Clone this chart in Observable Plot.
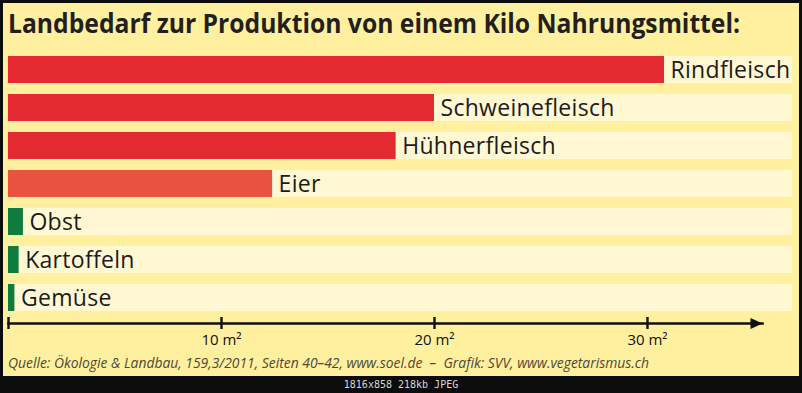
<!DOCTYPE html>
<html>
<head>
<meta charset="utf-8">
<script src="https://cdn.jsdelivr.net/npm/d3@7"></script>
<script src="https://cdn.jsdelivr.net/npm/@observablehq/plot@0.6"></script>
<style>
  html, body { margin: 0; padding: 0; }
  body { width: 802px; height: 393px; overflow: hidden; position: relative; background: #0c0c0c; font-family: "Open Sans", sans-serif; }
  #panel { position: absolute; left: 3px; top: 3px; width: 796px; height: 373px; background: #fff09f; }
  #title { position: absolute; left: 8px; top: 6px; font-weight: 700; font-size: 26px; line-height: 34px; color: #231f20; white-space: nowrap; transform-origin: 0 0; }
  #chart { position: absolute; left: 0; top: 45px; }
  #caption { position: absolute; left: 8px; top: 356px; font-style: italic; font-size: 14px; line-height: 14px; color: #4d4838; white-space: pre; transform-origin: 0 0; }
  #foot { position: absolute; left: 0; top: 379px; width: 802px; text-align: center; font-family: "DejaVu Sans Mono", monospace; font-size: 10px; line-height: 12px; color: #d8d8d8; }
</style>
</head>
<body>
<div id="panel"></div>
<div id="title"></div>
<div id="chart"></div>
<div id="caption"></div>
<div id="foot"></div>
<script>
// ---- data ----
const titleText = "Landbedarf zur Produktion von einem Kilo Nahrungsmittel:";
const captionText = "Quelle: Ökologie & Landbau, 159,3/2011, Seiten 40–42, www.soel.de  –  Grafik: SVV, www.vegetarismus.ch";
const footText = "1816x858 218kb JPEG";

const foods = ["Rindfleisch", "Schweinefleisch", "Hühnerfleisch", "Eier", "Obst", "Kartoffeln", "Gemüse"];
const areaM2 = [30.8, 20, 18.2, 12.4, 0.7, 0.5, 0.3];
const groups = ["Fleisch", "Fleisch", "Fleisch", "Eier", "Pflanzlich", "Pflanzlich", "Pflanzlich"];

const tickValues = [0, 10, 20, 30];
const tickLabels = ["", "10 m²", "20 m²", "30 m²"];
const axisEnd = 35.4;   // end of the arrow axis (m²)
const bandEnd = 36.8;   // end of the pale row bands (m²)

const groupDomain = ["Fleisch", "Eier", "Pflanzlich"];
const groupColors = ["#e42b31", "#e8523f", "#0f7b3c"];

const rows = foods.map((name, i) => ({ name, value: areaM2[i], group: groups[i] }));

// arrow head symbol (tip at the origin, pointing right)
const arrowHead = {
  draw(ctx) {
    ctx.moveTo(0, 0);
    ctx.lineTo(-12, -5.5);
    ctx.lineTo(-12, 5.5);
    ctx.closePath();
  }
};

const chart = Plot.plot({
  width: 802,
  height: 305,
  marginLeft: 8,
  marginRight: 40,
  marginTop: 0,
  marginBottom: 27,
  style: { background: "transparent", fontFamily: "Open Sans, sans-serif", color: "#111" },
  x: { domain: [0, axisEnd] },
  y: { domain: foods, range: [11, 266], paddingInner: 0.29, paddingOuter: 0, axis: null },
  color: { domain: groupDomain, range: groupColors },
  marks: [
    Plot.barX(rows, { x1: 0, x2: bandEnd, y: "name", fill: "#fff8d3" }),
    Plot.barX(rows, { x1: 0, x2: "value", y: "name", fill: "group" }),
    Plot.text(rows, { x: "value", y: "name", text: "name", dx: 6, dy: 1, textAnchor: "start", fontSize: 23, fill: "#1b1b1b", style: "letter-spacing:0.3px" }),
    Plot.frame({ anchor: "bottom", stroke: "#111", strokeWidth: 2.6 }),
    Plot.dot([axisEnd], { x: d => d, frameAnchor: "bottom", symbol: arrowHead, r: 6, fill: "#111", stroke: "none" }),
    Plot.axisX({
      anchor: "bottom",
      ticks: tickValues,
      tickFormat: d => tickLabels[tickValues.indexOf(d)],
      tickSize: 12,
      dy: -6,
      tickPadding: 5,
      fontSize: 15,
      stroke: "#111",
      strokeWidth: 2.4,
      fill: "#111",
      label: null
    })
  ]
});
document.getElementById("chart").appendChild(chart);
chart.querySelectorAll("text").forEach(t => {
  if (foods.includes(t.textContent)) t.style.letterSpacing = "0.3px";
});

// ---- texts ----
function fit(el, text, targetWidth) {
  el.textContent = text;
  const w = el.getBoundingClientRect().width;
  if (w > 0) el.style.transform = `scaleX(${targetWidth / w})`;
}
fit(document.getElementById("title"), titleText, 732);
fit(document.getElementById("caption"), captionText, 641);
document.getElementById("foot").textContent = footText;
</script>
</body>
</html>
